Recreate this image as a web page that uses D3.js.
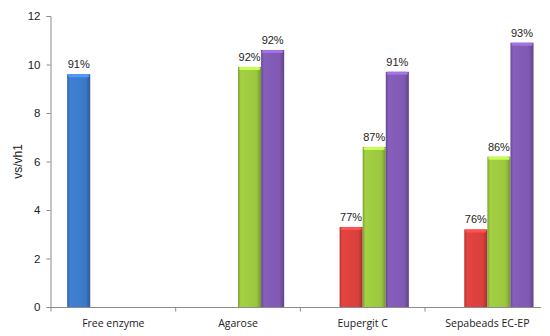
<!DOCTYPE html>
<html>
<head>
<meta charset="utf-8">
<script src="https://cdn.jsdelivr.net/npm/d3@7"></script>
<style>
  body { margin: 0; background: #fff; }
  svg { display: block; }
  .tick text { font-family: Arial, "Liberation Sans", sans-serif; }
</style>
</head>
<body>
<div id="chart"></div>
<script>
// Data
const categories = ["Free enzyme", "Agarose", "Eupergit C", "Sepabeads EC-EP"];
const series = ["s1", "s2", "s3", "s4"];
const seriesColors = ["#3c79c8", "#d8403c", "#9bc63f", "#7f59b2"];
const values = [
    [9.6, null, null, null],
    [null, null, 9.9, 10.6],
    [null, 3.3, 6.6, 9.7],
    [null, 3.2, 6.2, 10.9]
];
const labels = [
    ["91%", null, null, null],
    [null, null, "92%", "92%"],
    [null, "77%", "87%", "91%"],
    [null, "76%", "86%", "93%"]
];
const yTicks = [0, 2, 4, 6, 8, 10, 12];

const width = 550;
const height = 336;
const margin = { top: 16, right: 0, bottom: 29, left: 51 };
const plotRight = 549.7;
const axisEnd = 541;

const svg = d3.select("#chart")
    .append("svg")
    .attr("width", width)
    .attr("height", height);

// gradients for the bevelled bar look
const defs = svg.append("defs");
seriesColors.forEach((c, i) => {
    const base = d3.color(c);
    const g = defs.append("linearGradient")
        .attr("id", "grad" + i)
        .attr("x1", "0%").attr("x2", "100%")
        .attr("y1", "0%").attr("y2", "0%");
    g.append("stop").attr("offset", "0%").attr("stop-color", base.darker(0.6));
    g.append("stop").attr("offset", "12%").attr("stop-color", base.brighter(0.15));
    g.append("stop").attr("offset", "80%").attr("stop-color", base);
    g.append("stop").attr("offset", "100%").attr("stop-color", base.darker(0.8));
});

const x0 = d3.scaleBand()
    .domain(categories)
    .range([margin.left, plotRight]);

const x1 = d3.scaleBand()
    .domain(series)
    .range([0, x0.bandwidth()])
    .paddingOuter(0.7);

const y = d3.scaleLinear()
    .domain([0, 12])
    .range([height - margin.bottom, margin.top]);

// y axis
const yAxis = svg.append("g")
    .attr("transform", `translate(${margin.left - 0.5},0)`)
    .call(d3.axisLeft(y).tickValues(yTicks).tickSize(4).tickPadding(6));
yAxis.select(".domain").attr("stroke", "#8c8c8c");
yAxis.selectAll(".tick line").attr("stroke", "#8c8c8c");
yAxis.selectAll(".tick text")
    .attr("font-size", 11.5)
    .attr("fill", "#222");

// x axis
const xAxis = svg.append("g")
    .attr("transform", `translate(0,${y(0) + 0.5})`);
xAxis.append("line")
    .attr("x1", margin.left - 4).attr("x2", axisEnd)
    .attr("stroke", "#8c8c8c");
xAxis.selectAll(".xtick")
    .data(categories)
    .enter()
    .append("line")
    .attr("x1", d => x0(d))
    .attr("x2", d => x0(d))
    .attr("y1", 0).attr("y2", 4)
    .attr("stroke", "#8c8c8c");
xAxis.selectAll(".xlabel")
    .data(categories)
    .enter()
    .append("text")
    .attr("x", d => x0(d) + x0.bandwidth() / 2)
    .attr("y", 19)
    .attr("text-anchor", "middle")
    .attr("font-family", "'Open Sans', sans-serif")
    .attr("font-size", 10.5)
    .attr("fill", "#222")
    .text(d => d);

// y title
svg.append("text")
    .attr("transform", `translate(22,${(y(0) + y(12)) / 2}) rotate(-90)`)
    .attr("text-anchor", "middle")
    .attr("font-family", "Arial, 'Liberation Sans', sans-serif")
    .attr("font-size", 12)
    .attr("fill", "#222")
    .text("vs/vh1");

// bars
const groups = svg.selectAll(".cat")
    .data(categories)
    .enter()
    .append("g")
    .attr("transform", d => `translate(${x0(d)},0)`);

const cells = groups.selectAll(".bar")
    .data((d, ci) => series.map((s, si) => ({ s, si, v: values[ci][si], label: labels[ci][si] }))
        .filter(e => e.v !== null))
    .enter()
    .append("g");

cells.append("rect")
    .attr("x", d => x1(d.s))
    .attr("y", d => y(d.v))
    .attr("width", x1.bandwidth())
    .attr("height", d => y(0) - y(d.v))
    .attr("fill", d => `url(#grad${d.si})`);

// top bevel highlight
cells.append("rect")
    .attr("x", d => x1(d.s) + 1)
    .attr("y", d => y(d.v))
    .attr("width", x1.bandwidth() - 2)
    .attr("height", 3)
    .attr("rx", 1.5)
    .attr("fill", d => d3.color(seriesColors[d.si]).brighter(0.7));

cells.append("text")
    .attr("x", d => x1(d.s) + x1.bandwidth() / 2)
    .attr("y", d => y(d.v) - 6)
    .attr("text-anchor", "middle")
    .attr("font-family", "Arial, 'Liberation Sans', sans-serif")
    .attr("font-size", 11)
    .attr("fill", "#222")
    .text(d => d.label);
</script>
</body>
</html>
